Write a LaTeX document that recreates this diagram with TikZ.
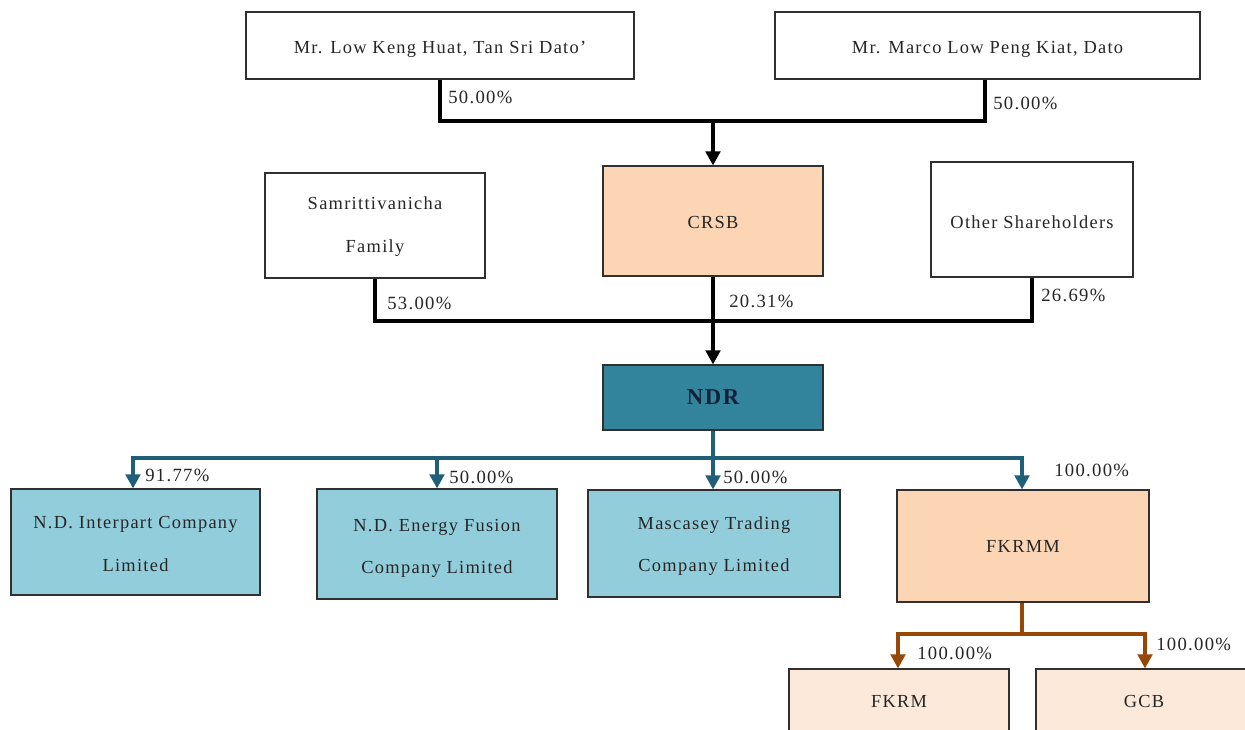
\documentclass[tikz,border=0pt]{standalone}
\usepackage{fontspec}
\setmainfont[LetterSpace=7]{Liberation Serif}
\usetikzlibrary{arrows.meta}
\definecolor{peach}{HTML}{FCD5B4}
\definecolor{paleorange}{HTML}{FDE9D9}
\definecolor{ndrteal}{HTML}{31849B}
\definecolor{lightblue}{HTML}{92CDDC}
\definecolor{tealline}{HTML}{215F78}
\definecolor{brownline}{HTML}{974706}
\definecolor{edgegray}{HTML}{303030}
\definecolor{navytext}{HTML}{0F2238}
\newcommand{\lowerby}[1]{\rule{0pt}{#1}}
\tikzset{
  x=0.75pt,y=-0.75pt,
  wh/.style 2 args={minimum width=#1*0.75pt,minimum height=#2*0.75pt},
  orgbox/.style={draw=edgegray,line width=0.95pt,inner sep=0pt,align=center,font=\fontsize{13.8}{32}\selectfont,text=black!85},
  pct/.style={anchor=west,inner sep=0pt,font=\fontsize{14}{16}\selectfont,text=black!85},
  blackline/.style={draw=black,line width=2.3pt},
  blackarrow/.style={blackline,-{Triangle[length=10.5pt,width=11pt]}},
  tealconn/.style={draw=tealline,line width=2.3pt},
  tealarrow/.style={tealconn,-{Triangle[length=10.5pt,width=11pt]}},
  brownconn/.style={draw=brownline,line width=2.3pt},
  brownstem/.style={draw=brownline,line width=3.2pt},
  brownarrow/.style={brownconn,-{Triangle[length=10.5pt,width=11pt]}},
}
\begin{document}
\begin{tikzpicture}
\useasboundingbox (0,0) rectangle (1245,730);
\clip (0,0) rectangle (1245,730);
\fill[white] (0,0) rectangle (1245,730);
% boxes
\node[orgbox,wh={388}{67}] (low) at (440,45.5) {\lowerby{14.5pt}Mr. Low Keng Huat, Tan Sri Dato’};
\node[orgbox,wh={425}{67}] (marco) at (987.5,45.5) {\lowerby{14.5pt}Mr. Marco Low Peng Kiat, Dato};
\node[orgbox,wh={220}{105}] (sam) at (375,225.5) {\lowerby{11pt}Samrittivanicha\\Family};
\node[orgbox,wh={220}{110},fill=peach] (crsb) at (713,221) {\lowerby{12pt}CRSB};
\node[orgbox,wh={202}{115}] (other) at (1032,219.5) {\lowerby{13pt}Other Shareholders};
\node[orgbox,wh={220}{65},fill=ndrteal,text=navytext] (ndr) at (713,397.5) {\fontsize{17}{20}\selectfont\bfseries NDR};
\node[orgbox,wh={249}{106},fill=lightblue] (inter) at (135.5,542) {\lowerby{11.8pt}N.D. Interpart Company\\Limited};
\node[orgbox,wh={240}{110},fill=lightblue] (energy) at (437,544) {\lowerby{15.5pt}N.D. Energy Fusion\\Company Limited};
\node[orgbox,wh={252}{107},fill=lightblue] (masc) at (714,543.5) {\lowerby{13.3pt}Mascasey Trading\\Company Limited};
\node[orgbox,wh={252}{112},fill=peach] (fkrmm) at (1023,546) {FKRMM};
\node[orgbox,wh={220}{64},fill=paleorange] (fkrm) at (899,701) {FKRM};
\node[orgbox,wh={216}{64},fill=paleorange] (gcb) at (1144,701) {GCB};
% junctions
\coordinate (j1) at (713,121);
\coordinate (j2) at (713,321);
\coordinate (j3) at (713,458);
\coordinate (j4) at (1022,634);
% black connectors
\draw[blackline] (low.south) |- (j1);
\draw[blackline] (marco.south -| 985,0) |- (j1);
\draw[blackarrow] (j1) -- (crsb.north);
\draw[blackline] (sam.south) |- (j2);
\draw[blackline] (other.south) |- (j2);
\draw[blackline] (crsb.south) -- (j2);
\draw[blackarrow] (j2) -- (ndr.north);
% teal connectors
\draw[tealconn] (ndr.south) -- (j3);
\draw[tealarrow] (j3) -| (inter.north -| 133,0);
\draw[tealarrow] (j3) -| (energy.north);
\draw[tealarrow] (j3) -- (masc.north -| j3);
\draw[tealarrow] (j3) -| (fkrmm.north -| 1022,0);
% brown connectors
\draw[brownstem] (fkrmm.south -| j4) -- (j4);
\draw[brownarrow] (j4) -| (fkrm.north -| 898,0);
\draw[brownarrow] (j4) -| (gcb.north -| 1145,0);
% percentages
\node[pct] (p1) at (448,97) {50.00\%};
\node[pct] (p2) at (993,103) {50.00\%};
\node[pct] (p3) at (387,303) {53.00\%};
\node[pct] (p4) at (729,301) {20.31\%};
\node[pct] (p5) at (1041,295) {26.69\%};
\node[pct] (p6) at (145,475) {91.77\%};
\node[pct] (p7) at (449,477) {50.00\%};
\node[pct] (p8) at (723,477) {50.00\%};
\node[pct] (p9) at (1054,470) {100.00\%};
\node[pct] (p10) at (917,653) {100.00\%};
\node[pct] (p11) at (1156,644) {100.00\%};
\end{tikzpicture}
\end{document}
